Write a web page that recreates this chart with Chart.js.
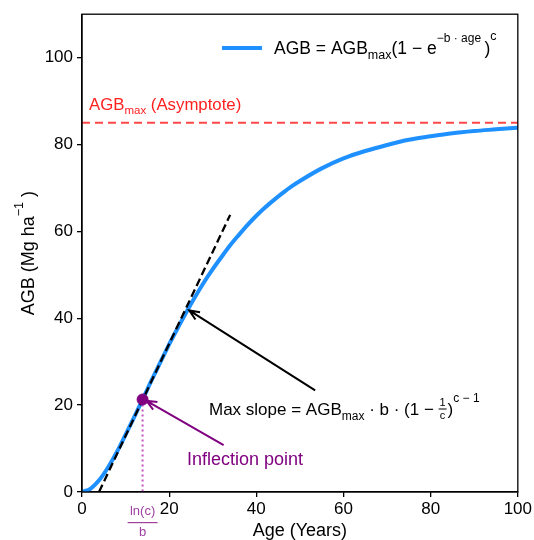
<!DOCTYPE html>
<html>
<head>
<meta charset="utf-8">
<script src="https://cdn.jsdelivr.net/npm/chart.js@4"></script>
<style>
  body { margin: 0; background: #fff; }
  #wrap { width: 534px; height: 540px; }
</style>
</head>
<body>
<div id="wrap"><canvas id="myChart" width="534" height="540"></canvas></div>
<script>
// values
const ages = [0, 2, 4, 6, 8, 10, 12, 14, 16, 18, 20, 22, 24, 26, 28, 30, 32, 34, 36, 38, 40,
              42, 44, 46, 48, 50, 55, 60, 65, 70, 75, 80, 85, 90, 95, 100];
const agb = [0, 0.8, 2.8, 5.7, 9.2, 13.2, 17.3, 21.5, 25.8, 29.9, 34.0, 37.8, 41.5, 45.0, 48.3, 51.3,
             54.1, 56.8, 59.2, 61.5, 63.6, 65.5, 67.2, 68.8, 70.3, 71.6, 74.5, 76.8, 78.5, 79.9,
             81.1, 81.9, 82.6, 83.1, 83.5, 83.9];
const asymptoteX = [0, 100];
const asymptoteY = [85, 85];
const tangentX = [3.9, 34];
const tangentY = [0, 63.8];
const inflectAge = 13.9;
const inflectAgb = 21.3;
const xTicks = [0, 20, 40, 60, 80, 100];
const yTicks = [0, 20, 40, 60, 80, 100];

const FONT = "'Liberation Sans', Arial, sans-serif";
const BLUE = '#1e90ff';
const PURPLE = '#800080';

const pts = (xs, ys) => xs.map((x, i) => ({x: x, y: ys[i]}));

// draw text with sub/superscripts: parts = [[text, size, dy], ...]
function richText(c, parts, x, y, color, align) {
    c.save();
    c.fillStyle = color;
    c.textBaseline = 'alphabetic';
    c.textAlign = 'left';
    let total = 0;
    parts.forEach(p => {
        c.font = p[1] + 'px ' + FONT;
        total += c.measureText(p[0]).width;
    });
    let cx = align === 'center' ? x - total / 2 : x;
    parts.forEach(p => {
        c.font = p[1] + 'px ' + FONT;
        c.fillText(p[0], cx, y + (p[2] || 0));
        cx += c.measureText(p[0]).width;
    });
    c.restore();
    return x + total;
}

function arrow(c, x1, y1, x2, y2, color) {
    const a = Math.atan2(y2 - y1, x2 - x1);
    const h = 11, s = 0.4;
    c.save();
    c.strokeStyle = color;
    c.lineWidth = 2;
    c.beginPath();
    c.moveTo(x1, y1);
    c.lineTo(x2, y2);
    c.moveTo(x2 - h * Math.cos(a - s), y2 - h * Math.sin(a - s));
    c.lineTo(x2, y2);
    c.lineTo(x2 - h * Math.cos(a + s), y2 - h * Math.sin(a + s));
    c.stroke();
    c.restore();
}

const extras = {
    id: 'extras',
    beforeDatasetsDraw(chart) {
        const c = chart.ctx, xs = chart.scales.x, ys = chart.scales.y;
        // dotted drop line from the inflection point
        c.save();
        c.strokeStyle = '#c050c0';
        c.lineWidth = 2;
        c.setLineDash([2, 3]);
        c.beginPath();
        c.moveTo(xs.getPixelForValue(inflectAge), ys.getPixelForValue(inflectAgb));
        c.lineTo(xs.getPixelForValue(inflectAge), ys.getPixelForValue(0));
        c.stroke();
        c.restore();
    },
    afterDraw(chart) {
        const c = chart.ctx, xs = chart.scales.x, ys = chart.scales.y, a = chart.chartArea;
        const px = v => xs.getPixelForValue(v), py = v => ys.getPixelForValue(v);

        // frame
        c.save();
        c.strokeStyle = '#000';
        c.lineWidth = 1.3;
        c.strokeRect(a.left, a.top, a.right - a.left, a.bottom - a.top);
        c.restore();

        // axis titles
        richText(c, [['Age (Years)', 18]], (a.left + a.right) / 2, 536, '#000', 'center');
        c.save();
        c.translate(34, (a.top + a.bottom) / 2);
        c.rotate(-Math.PI / 2);
        richText(c, [['AGB (Mg ha', 18], ['\u22121', 12.5, -11], [' )', 18]], 0, 0, '#000', 'center');
        c.restore();

        // legend
        c.save();
        c.strokeStyle = BLUE;
        c.lineWidth = 4;
        c.beginPath();
        c.moveTo(222, 48);
        c.lineTo(262, 48);
        c.stroke();
        c.restore();
        richText(c, [['AGB = AGB', 17.5], ['max', 12.5, 5], ['(1 \u2212 e', 17.5], ['\u2212b \u00b7 age ', 12, -12],
                     [')', 17.5], ['c', 12.5, -14]], 274, 54, '#000');

        // asymptote label
        richText(c, [['AGB', 16.8], ['max', 11.5, 4], [' (Asymptote)', 16.8]], 89, 110, '#ff2020');

        // max slope label + arrow
        const fx = richText(c, [['Max slope = AGB', 17], ['max', 12, 5], [' \u00b7 b \u00b7 (1 \u2212 ', 17]], 209, 415, '#000');
        c.save();
        c.font = '11px ' + FONT;
        c.fillStyle = '#000';
        c.textAlign = 'center';
        c.fillText('1', fx + 4, 406);
        c.fillText('c', fx + 4, 419);
        c.fillRect(fx, 408.5, 8, 1);
        c.restore();
        richText(c, [[')', 17], ['c \u2212 1', 12, -13]], fx + 9, 415, '#000');
        arrow(c, px(53.5), py(23.4), px(24.6), py(41.8), '#000');

        // inflection point label + arrow
        richText(c, [['Inflection point', 18]], 187, 465, PURPLE);
        arrow(c, px(32.5), py(10.8), px(14.8), py(21.0), PURPLE);

        // ln(c)/b under the axis
        c.save();
        const fxc = px(inflectAge);
        c.fillStyle = '#a040a0';
        c.font = '13px ' + FONT;
        c.textAlign = 'center';
        c.textBaseline = 'middle';
        c.fillText('ln(c)', fxc, 511);
        c.fillText('b', fxc, 532);
        c.fillRect(fxc - 15, 522, 30, 1.2);
        c.restore();
    }
};

new Chart(document.getElementById('myChart'), {
    type: 'scatter',
    data: {
        datasets: [
            {
                data: pts(ages, agb),
                showLine: true,
                borderColor: BLUE,
                borderWidth: 4,
                pointRadius: 0,
                cubicInterpolationMode: 'monotone',
                order: 3
            },
            {
                data: pts(asymptoteX, asymptoteY),
                showLine: true,
                borderColor: 'rgba(255, 40, 40, 0.85)',
                borderWidth: 2,
                borderDash: [8, 5],
                pointRadius: 0,
                order: 2
            },
            {
                data: pts(tangentX, tangentY),
                showLine: true,
                borderColor: '#000',
                borderWidth: 2.3,
                borderDash: [8, 4],
                pointRadius: 0,
                order: 1
            },
            {
                data: [{x: inflectAge, y: inflectAgb}],
                pointRadius: 5.5,
                pointBackgroundColor: PURPLE,
                pointBorderColor: PURPLE,
                order: 0
            }
        ]
    },
    options: {
        responsive: false,
        animation: false,
        events: [],
        layout: { padding: { left: 0, right: 16, top: 13, bottom: 0 } },
        plugins: { legend: { display: false }, tooltip: { enabled: false } },
        scales: {
            x: {
                type: 'linear',
                min: 0,
                max: 100,
                afterBuildTicks: s => { s.ticks = xTicks.map(v => ({value: v})); },
                afterFit: s => { s.height = 48; },
                ticks: { color: '#000', font: { family: FONT, size: 17 }, padding: 2, maxRotation: 0 },
                grid: { drawOnChartArea: false, drawTicks: true, tickLength: 5, color: '#000', lineWidth: 1.3 },
                border: { display: true, color: '#000', width: 1.3 }
            },
            y: {
                type: 'linear',
                min: 0,
                max: 110,
                afterBuildTicks: s => { s.ticks = yTicks.map(v => ({value: v})); },
                afterFit: s => { s.width = 82; },
                ticks: { color: '#000', font: { family: FONT, size: 17 }, padding: 4 },
                grid: { drawOnChartArea: false, drawTicks: true, tickLength: 5, color: '#000', lineWidth: 1.3 },
                border: { display: true, color: '#000', width: 1.3 }
            }
        }
    },
    plugins: [extras]
});
</script>
</body>
</html>
